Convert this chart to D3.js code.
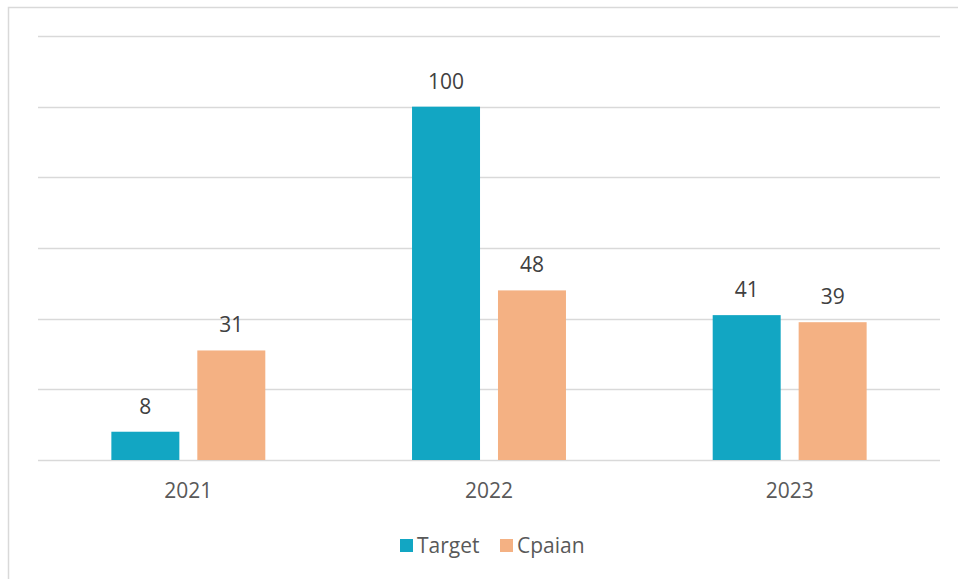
<!DOCTYPE html>
<html>
<head>
<meta charset="utf-8">
<script src="https://cdn.jsdelivr.net/npm/d3@7"></script>
<style>
  body { margin: 0; background: #fff; }
  svg text { font-family: "Open Sans", "Noto Sans", sans-serif; }
</style>
</head>
<body>
<svg width="958" height="579"></svg>
<script>
const years = ['2021', '2022', '2023'];
const seriesNames = ['Target', 'Cpaian'];
const target = [8, 100, 41];
const cpaian = [31, 48, 39];
const gridTicks = [0, 20, 40, 60, 80, 100, 120];

const colors = ['#12a6c3', '#f4b183'];

const svg = d3.select('svg'),
    width = +svg.attr('width'),
    height = +svg.attr('height');

// chart frame
svg.append('path')
    .attr('d', 'M8.5,579 V7.5 H958')
    .attr('fill', 'none')
    .attr('stroke', '#d9d9d9')
    .attr('stroke-width', 1.5);

const margin = {left: 38, right: 18, top: 36, bottom: 119};
const plotW = width - margin.left - margin.right;
const plotH = height - margin.top - margin.bottom;

const g = svg.append('g')
    .attr('transform', `translate(${margin.left},${margin.top})`);

const x0 = d3.scaleBand()
    .domain(years)
    .range([0, plotW])
    .paddingInner(0.488)
    .paddingOuter(0.244);

const x1 = d3.scaleBand()
    .domain(seriesNames)
    .range([0, x0.bandwidth()])
    .paddingInner(0.209);

const y = d3.scaleLinear()
    .domain([0, 120])
    .range([plotH, 0]);

g.append('g')
    .attr('class', 'grid')
    .selectAll('line')
    .data(gridTicks)
    .enter()
    .append('line')
    .attr('x1', 0)
    .attr('x2', plotW)
    .attr('y1', d => Math.round(y(d)) + 0.5)
    .attr('y2', d => Math.round(y(d)) + 0.5)
    .attr('stroke', '#d9d9d9')
    .attr('stroke-width', 1.5);

const rows = years.map((yr, i) => ({year: yr, values: [target[i], cpaian[i]]}));

const groups = g.selectAll('.year')
    .data(rows)
    .enter()
    .append('g')
    .attr('class', 'year')
    .attr('transform', d => `translate(${x0(d.year)},0)`);

groups.selectAll('rect')
    .data(d => d.values.map((v, j) => ({name: seriesNames[j], value: v, j})))
    .enter()
    .append('rect')
    .attr('x', d => x1(d.name))
    .attr('width', x1.bandwidth())
    .attr('y', d => y(d.value))
    .attr('height', d => y(0) - y(d.value))
    .attr('fill', d => colors[d.j]);

groups.selectAll('text.val')
    .data(d => d.values.map((v, j) => ({name: seriesNames[j], value: v})))
    .enter()
    .append('text')
    .attr('class', 'val')
    .attr('x', d => x1(d.name) + x1.bandwidth() / 2)
    .attr('y', d => y(d.value) - 18)
    .attr('text-anchor', 'middle')
    .attr('font-size', 21)
    .attr('fill', '#404040')
    .text(d => d.value);

const xAxis = g.append('g')
    .attr('transform', `translate(0,${plotH})`)
    .call(d3.axisBottom(x0).tickSize(0).tickPadding(23));
xAxis.select('.domain').remove();
xAxis.selectAll('text')
    .attr('font-size', 21)
    .attr('fill', '#595959')
    .attr('font-family', '"Open Sans", "Noto Sans", sans-serif');

// legend
const legend = svg.append('g')
    .attr('transform', 'translate(400,545)');

const items = legend.selectAll('g')
    .data(seriesNames)
    .enter()
    .append('g')
    .attr('transform', (d, i) => `translate(${i * 100},0)`);

items.append('rect')
    .attr('x', 0)
    .attr('y', -6)
    .attr('width', 13)
    .attr('height', 13)
    .attr('fill', (d, i) => colors[i]);

items.append('text')
    .attr('x', 17)
    .attr('y', 8)
    .attr('font-size', 21)
    .attr('fill', '#595959')
    .text(d => d);
</script>
</body>
</html>
